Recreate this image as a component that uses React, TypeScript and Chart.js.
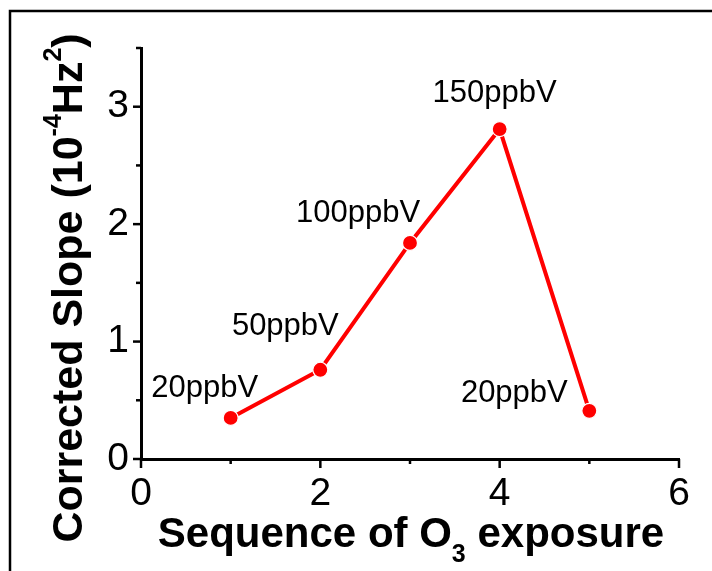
import React, { useEffect, useRef } from 'react';
import { Chart, registerables } from 'chart.js';

Chart.register(...registerables);

// ---- data ----
const sequence = [1, 2, 3, 4, 5];
const slope = [0.35, 0.76, 1.84, 2.81, 0.41];
const concentrationLabels = ['20ppbV', '50ppbV', '100ppbV', '150ppbV', '20ppbV'];
const xMajorTicks = [0, 2, 4, 6];
const yMajorTicks = [0, 1, 2, 3];

// ---- styling ----
const FONT = '"Liberation Sans", Arial, Helvetica, sans-serif';
const RED = '#ff0000';
// pixel offsets of each annotation (center / baseline) relative to its point
const LABEL_OFFSETS: [number, number][] = [
  [-26, -21],
  [-35, -35],
  [-52, -21],
  [-5, -27],
  [-75, -9],
];

type Part = { text: string; size: number; dy: number };

function drawParts(ctx: CanvasRenderingContext2D, parts: Part[], cx: number, baseY: number, weight: string) {
  const widths = parts.map((p) => {
    ctx.font = `${weight} ${p.size}px ${FONT}`;
    return ctx.measureText(p.text).width;
  });
  const total = widths.reduce((a, b) => a + b, 0);
  let x = cx - total / 2;
  ctx.textAlign = 'left';
  ctx.textBaseline = 'alphabetic';
  parts.forEach((p, i) => {
    ctx.font = `${weight} ${p.size}px ${FONT}`;
    ctx.fillText(p.text, x, baseY + p.dy);
    x += widths[i];
  });
}

const decorPlugin = {
  id: 'decor',
  beforeDraw(chart: any) {
    const ctx: CanvasRenderingContext2D = chart.ctx;
    ctx.save();
    ctx.strokeStyle = '#000';
    ctx.lineWidth = 2.5;
    ctx.beginPath();
    ctx.moveTo(10, chart.height + 10);
    ctx.lineTo(10, 11);
    ctx.lineTo(chart.width + 10, 11);
    ctx.stroke();
    ctx.restore();
  },
  afterDatasetsDraw(chart: any) {
    const ctx: CanvasRenderingContext2D = chart.ctx;
    const meta = chart.getDatasetMeta(0);
    ctx.save();
    ctx.fillStyle = '#000';
    ctx.font = `31px ${FONT}`;
    ctx.textAlign = 'center';
    ctx.textBaseline = 'alphabetic';
    meta.data.forEach((pt: any, i: number) => {
      const [dx, dy] = LABEL_OFFSETS[i];
      ctx.fillText(concentrationLabels[i], pt.x + dx, pt.y + dy);
    });
    ctx.restore();
  },
  afterDraw(chart: any) {
    const ctx: CanvasRenderingContext2D = chart.ctx;
    const { chartArea, scales } = chart;
    const xs = scales.x;
    const ys = scales.y;
    ctx.save();
    ctx.strokeStyle = '#000';
    ctx.lineWidth = 2.5;
    ctx.lineCap = 'butt';
    // y ticks (outward, left)
    ys.ticks.forEach((t: any) => {
      const py = ys.getPixelForValue(t.value);
      const len = yMajorTicks.includes(t.value) ? 8 : 5;
      ctx.beginPath();
      ctx.moveTo(chartArea.left, py);
      ctx.lineTo(chartArea.left - len, py);
      ctx.stroke();
    });
    // x ticks (outward, down)
    xs.ticks.forEach((t: any) => {
      const px = xs.getPixelForValue(t.value);
      const len = xMajorTicks.includes(t.value) ? 9 : 5;
      ctx.beginPath();
      ctx.moveTo(px, chartArea.bottom);
      ctx.lineTo(px, chartArea.bottom + len);
      ctx.stroke();
    });

    ctx.fillStyle = '#000';
    // x axis title
    drawParts(
      ctx,
      [
        { text: 'Sequence of O', size: 42, dy: 0 },
        { text: '3', size: 25, dy: 15 },
        { text: ' exposure', size: 42, dy: 0 },
      ],
      (chartArea.left + chartArea.right) / 2 + 1,
      chartArea.bottom + 88,
      'bold'
    );
    // y axis title (rotated)
    ctx.save();
    ctx.translate(chartArea.left - 59, chartArea.top + 240);
    ctx.rotate(-Math.PI / 2);
    drawParts(
      ctx,
      [
        { text: 'Corrected Slope (10', size: 43, dy: 0 },
        { text: '-4', size: 25, dy: -21 },
        { text: 'Hz', size: 43, dy: 0 },
        { text: '2', size: 25, dy: -21 },
        { text: ')', size: 43, dy: 0 },
      ],
      0,
      0,
      'bold'
    );
    ctx.restore();
    ctx.restore();
  },
};

export default function App() {
  const canvasRef = useRef<HTMLCanvasElement | null>(null);

  useEffect(() => {
    const canvas = canvasRef.current;
    if (!canvas) return;
    const chart = new Chart(canvas, {
      type: 'line',
      data: {
        datasets: [
          {
            data: sequence.map((s, i) => ({ x: s, y: slope[i] })),
            borderColor: RED,
            backgroundColor: RED,
            borderWidth: 4,
            pointRadius: 7.5,
            pointBorderWidth: 1.2,
            pointBorderColor: '#ffffff',
            pointBackgroundColor: RED,
            tension: 0,
            fill: false,
            clip: false as any,
          },
        ],
      },
      options: {
        responsive: false,
        animation: false,
        devicePixelRatio: 1,
        layout: { padding: { left: 0, top: 48, right: 33, bottom: 0 } },
        plugins: {
          legend: { display: false },
          tooltip: { enabled: false },
          title: { display: false },
        },
        scales: {
          x: {
            type: 'linear',
            min: 0,
            max: 6,
            afterFit: (s: any) => {
              s.height = 112;
            },
            grid: { display: false, drawTicks: false },
            border: { display: true, color: '#000', width: 3 },
            ticks: {
              stepSize: 1,
              autoSkip: false,
              maxRotation: 0,
              padding: 12,
              color: '#000',
              font: { family: FONT, size: 39 },
              callback: (v: any) => (xMajorTicks.includes(Number(v)) ? String(v) : ''),
            },
          },
          y: {
            type: 'linear',
            min: 0,
            max: 3.5,
            afterFit: (s: any) => {
              s.width = 141;
            },
            grid: { display: false, drawTicks: false },
            border: { display: true, color: '#000', width: 3 },
            ticks: {
              stepSize: 0.5,
              autoSkip: false,
              padding: 12,
              color: '#000',
              font: { family: FONT, size: 39 },
              callback: (v: any) => (yMajorTicks.includes(Number(v)) ? String(v) : ''),
            },
          },
        },
      },
      plugins: [decorPlugin],
    } as any);
    return () => chart.destroy();
  }, []);

  return (
    <div style={{ position: 'absolute', left: 0, top: 0, width: 712, height: 571, background: '#fff' }}>
      <canvas ref={canvasRef} width={712} height={571} />
    </div>
  );
}
